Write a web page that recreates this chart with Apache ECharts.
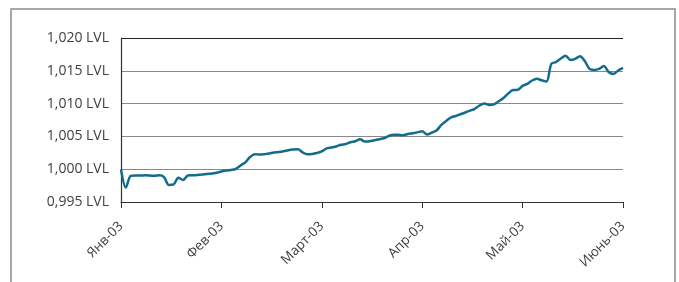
<!DOCTYPE html>
<html>
<head>
<meta charset="utf-8">
<script src="https://cdn.jsdelivr.net/npm/echarts@6/dist/echarts.min.js"></script>
<style>
html, body { margin: 0; padding: 0; background: #fff; }
#chart { width: 679px; height: 282px; }
</style>
</head>
<body>
<div id="chart"></div>
<script>
// месячные подписи оси X
var monthLabels = ['Янв-03', 'Фев-03', 'Март-03', 'Апр-03', 'Май-03', 'Июнь-03'];
var stepsPerMonth = 21;

// значения доли (LVL)
var values = [
    1.00000, 0.99721, 0.99896, 0.99904, 0.99904, 0.99907, 0.99904, 0.99899, 0.99907, 0.99881,
    0.99759, 0.99767, 0.99870, 0.99835, 0.99904, 0.99907, 0.99912, 0.99919, 0.99927, 0.99934,
    0.99947, 0.99965, 0.99980, 0.99988, 1.00003, 1.00056, 1.00105, 1.00186, 1.00229, 1.00223,
    1.00229, 1.00238, 1.00256, 1.00262, 1.00273, 1.00290, 1.00300, 1.00305, 1.00255, 1.00227,
    1.00232, 1.00247, 1.00270, 1.00316, 1.00331, 1.00346, 1.00372, 1.00384, 1.00410, 1.00427,
    1.00457, 1.00421, 1.00427, 1.00441, 1.00456, 1.00471, 1.00506, 1.00527, 1.00526, 1.00517,
    1.00537, 1.00549, 1.00561, 1.00579, 1.00529, 1.00558, 1.00590, 1.00674, 1.00735, 1.00788,
    1.00811, 1.00838, 1.00864, 1.00892, 1.00921, 1.00971, 1.01002, 1.00979, 1.00989, 1.01035,
    1.01085, 1.01154, 1.01207, 1.01210, 1.01271, 1.01302, 1.01352, 1.01377, 1.01355, 1.01337,
    1.01604, 1.01634, 1.01688, 1.01729, 1.01665, 1.01683, 1.01721, 1.01649, 1.01528, 1.01512,
    1.01528, 1.01573, 1.01482, 1.01451, 1.01505, 1.01545
];

// деления оси Y
var yMin = 0.995, yMax = 1.020, yStep = 0.005;

var days = [];
for (var i = 0; i <= (monthLabels.length - 1) * stepsPerMonth; i++) {
    days.push('d' + i);
}

var dom = document.getElementById('chart');
var myChart = echarts.init(dom, null, {renderer: 'canvas'});

var option = {
    animation: false,
    textStyle: {fontFamily: '"Open Sans", sans-serif'},
    graphic: [{
        type: 'rect',
        shape: {x: 11, y: 9, width: 664, height: 320},
        style: {fill: 'none', stroke: '#8a8a8a', lineWidth: 1.5},
        silent: true
    }],
    grid: {
        left: 121,
        right: 56,
        top: 38,
        bottom: 80
    },
    xAxis: {
        type: 'category',
        data: days,
        boundaryGap: false,
        axisLine: {lineStyle: {color: '#333', width: 1.2}},
        axisTick: {
            length: 6,
            interval: function (index) { return index % stepsPerMonth === 0; },
            lineStyle: {color: '#333'}
        },
        axisLabel: {
            interval: function (index) { return index % stepsPerMonth === 0; },
            formatter: function (value, index) {
                return monthLabels[Math.round(index / stepsPerMonth)];
            },
            rotate: 45,
            margin: 22,
            fontSize: 13.5,
            color: '#404040'
        },
        splitLine: {show: false}
    },
    yAxis: {
        type: 'value',
        min: yMin,
        max: yMax,
        interval: yStep,
        axisLine: {show: true, lineStyle: {color: '#333', width: 1.2}},
        axisTick: {show: false},
        axisLabel: {
            margin: 12,
            fontSize: 14,
            color: '#404040',
            formatter: function (v) {
                return v.toFixed(3).replace('.', ',') + ' LVL';
            }
        },
        splitLine: {
            lineStyle: {
                color: ['#888', '#888', '#888', '#888', '#888', '#222'],
                width: 1.2
            }
        }
    },
    series: [{
        name: 'LVL',
        type: 'line',
        data: values,
        symbol: 'none',
        smooth: 0.3,
        lineStyle: {color: '#136c8c', width: 2.5}
    }]
};

if (option && typeof option === 'object') {
    myChart.setOption(option, true);
}
</script>
</body>
</html>
